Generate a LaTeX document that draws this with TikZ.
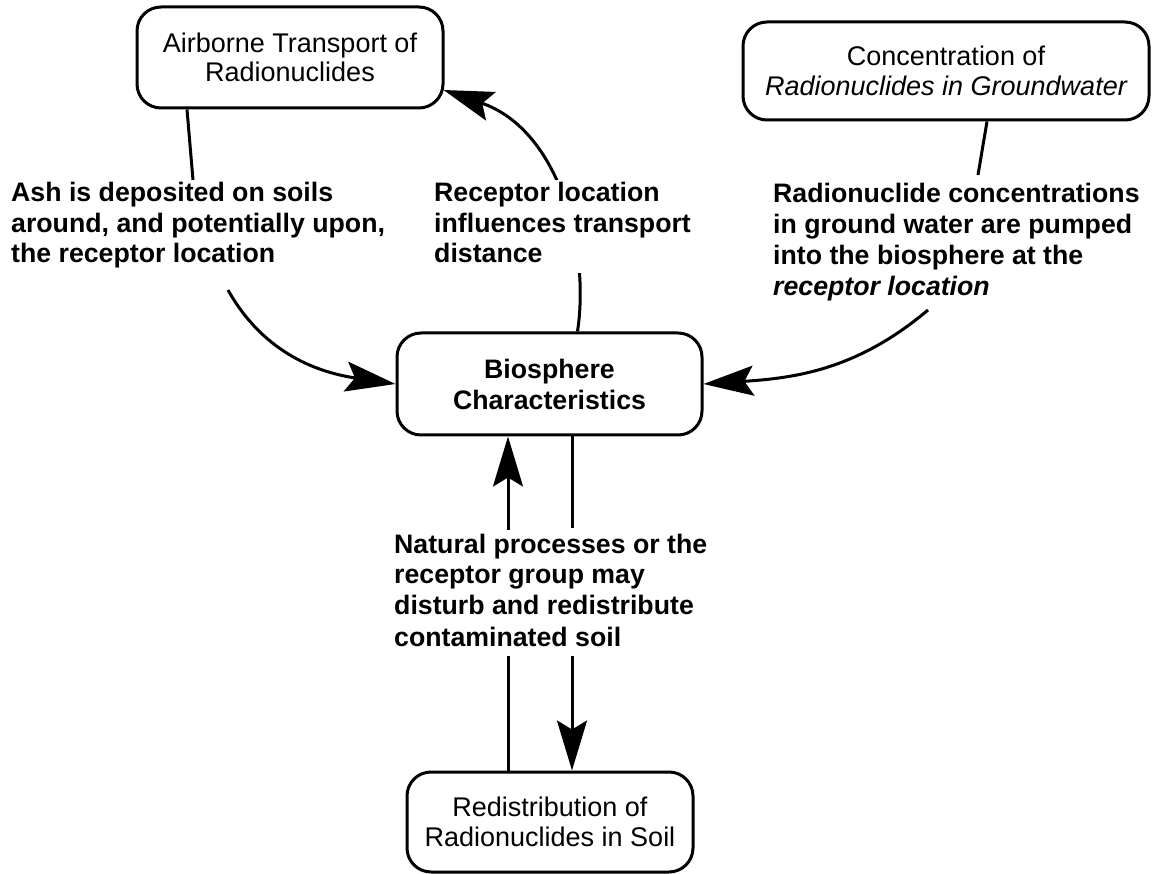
\documentclass[tikz,border=0pt]{standalone}
\usepackage{fontspec}
\setmainfont{Liberation Sans}
\usetikzlibrary{arrows.meta,backgrounds,calc}

% a left-aligned block of lines whose first baseline is the node's baseline
\newcommand{\linesblock}[1]{\begin{tabular}[t]{@{}l@{}}#1\end{tabular}}

\begin{document}
\begin{tikzpicture}[x=1pt,y=-1pt,
  box/.style={draw,line width=3pt,rounded corners=24pt,align=center,inner sep=0pt,
    font=\fontsize{27}{29.5}\selectfont},
  boldbox/.style={box,font=\fontsize{26.7}{31}\selectfont\bfseries},
  note/.style={anchor=base west,inner sep=1pt,fill=white,
    font=\fontsize{26.7}{30.5}\selectfont\bfseries},
  link/.style={line width=3pt},
  arr/.style={link,-{Stealth[length=50pt,width=30pt,inset=9pt]}},
]
\useasboundingbox (0,0) rectangle (1152,874);

% boxes
\node[box,minimum width=306pt,minimum height=101pt] (air) at (290,57.5)
  {Airborne Transport of\\Radionuclides};
\node[box,minimum width=406pt,minimum height=98pt] (gw) at (946,71)
  {Concentration of\\\itshape Radionuclides in Groundwater};
\node[boldbox,minimum width=305pt,minimum height=102pt] (bio) at (549.5,384)
  {Biosphere\\Characteristics};
\node[box,minimum width=286pt,minimum height=100pt] (soil) at (550,822)
  {Redistribution of\\Radionuclides in Soil};

% labels on the links
\node[note] (ash) at (10,202) {\linesblock{Ash is deposited on soils\\
  around, and potentially upon,\\the receptor location}};
\node[note] (rec) at (433,202) {\linesblock{Receptor location\\
  influences transport\\distance}};
\node[note,font=\fontsize{26.7}{30.8}\selectfont\bfseries] (rad) at (772,203)
  {\linesblock{Radionuclide concentrations\\in ground water are pumped\\
  into the biosphere at the\\\itshape receptor location}};
\node[note,font=\fontsize{26.7}{31}\selectfont\bfseries] (nat) at (393,553)
  {\linesblock{Natural processes or the\\receptor group may\\
  disturb and redistribute\\contaminated soil}};

% free ends of the links at the labels
\coordinate (ashtop) at (193,180);
\coordinate (ashend) at (228,290);
\coordinate (radtop) at (978,175);
\coordinate (radend) at (928,310);
\coordinate (airin) at ($(air.east)+(-1,32.5)$);
\coordinate (natul) at (508,530);
\coordinate (natur) at (572,528);
\coordinate (natll) at (508,653);
\coordinate (natlr) at (572,653);

\begin{scope}[on background layer]
  % airborne transport to biosphere
  \draw[link] ([xshift=-103pt]air.south) -- (ashtop);
  \draw[arr] (ashend) .. controls (265,356) and (322,373) .. (bio.west);
  % biosphere back to airborne transport
  \draw[arr] ([xshift=28pt]bio.north) .. controls (590,250) and (560,130) .. (airin);
  % groundwater to biosphere
  \draw[link] ([xshift=41pt]gw.south) -- (radtop);
  \draw[arr] (radend) .. controls (857,370) and (795,378) .. (bio.east);
  % exchange between biosphere and soil
  \draw[arr] (natul) -- (natul |- bio.south);
  \draw[link] (natur |- bio.south) -- (natur);
  \draw[link] (natll) -- (natll |- soil.north);
  \draw[arr] (natlr) -- (natlr |- soil.north);
\end{scope}
\end{tikzpicture}
\end{document}
